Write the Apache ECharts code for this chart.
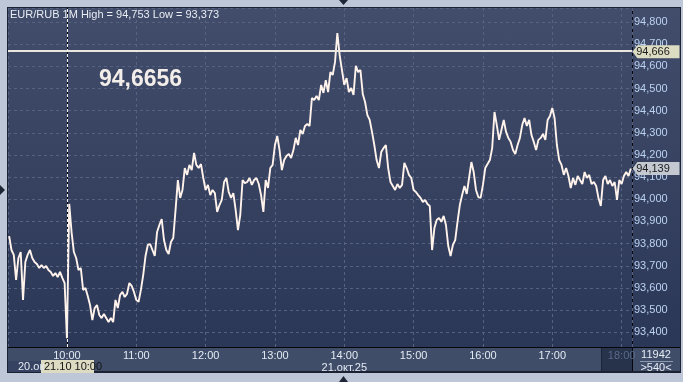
<!DOCTYPE html>
<html><head><meta charset="utf-8">
<script src="https://cdn.jsdelivr.net/npm/echarts@6/dist/echarts.min.js"></script>
<style>
html,body{margin:0;padding:0;width:683px;height:382px;overflow:hidden;background:#bec7d7;}
.bx{position:absolute;}
#frame{left:7px;top:7px;width:674px;height:366px;background:#1b2232;}
#plotbg{left:8px;top:8px;width:672px;height:339px;background:linear-gradient(#414d6a,#2b3756);}
#band{left:8px;top:348px;width:672px;height:23px;background:#3f4d69;}
#vsep{left:632px;top:8px;width:1px;height:363px;background:#05070c;}
#hsep{left:632px;top:347px;width:48px;height:1px;background:#05070c;}
#nowbox{left:601px;top:348px;width:31px;height:23px;background:#27324b;border-left:1px solid #1c2538;}
#chart{position:absolute;left:0;top:0;width:683px;height:382px;}
</style></head>
<body>
<div class="bx" id="frame"></div>
<div class="bx" id="plotbg"></div>
<div class="bx" id="band"></div>
<div class="bx" id="nowbox"></div>
<div class="bx" id="vsep"></div>
<div class="bx" id="hsep"></div>
<div id="chart"></div>
<script>
// ---- data ----
const headerText = 'EUR/RUB 1M High = 94,753 Low = 93,373';
const bigQuote = '94,6656';
const levelPrice = 94.666;      // horizontal level line
const lastPrice = 94.139;       // last price tag
const hourLabels = ['10:00','11:00','12:00','13:00','14:00','15:00','16:00','17:00','18:00'];
const dateLabel = '21.окт.25';
const prevDayLabel = '20.ок';
const cursorLabel = '21.10 10:00';
const barCount = '11942';
const visibleBars = '>540<';
// minutes relative to 10:00 of the first sample, and sample step (minutes)
const startMinute = -50;
const stepMinutes = 2;
const prices = [
93.834,93.771,93.749,93.636,93.735,93.762,93.546,93.717,93.749,93.771,
93.735,93.717,93.708,93.690,93.703,93.690,93.699,93.681,93.672,93.654,
93.667,93.649,93.672,93.645,93.622,93.373,93.979,93.852,93.762,93.735,
93.681,93.690,93.591,93.600,93.564,93.523,93.455,93.509,93.523,93.478,
93.464,93.482,93.464,93.446,93.464,93.446,93.546,93.509,93.568,93.582,
93.559,93.573,93.622,93.609,93.582,93.546,93.537,93.591,93.658,93.744,
93.794,93.798,93.771,93.744,93.852,93.884,93.911,93.816,93.771,93.753,
93.807,93.825,93.952,94.087,94.006,94.042,94.141,94.110,94.155,94.132,
94.209,94.155,94.141,94.159,94.096,94.042,94.065,94.019,94.042,94.028,
93.943,93.974,93.997,94.078,94.096,94.033,94.006,94.028,93.952,93.861,
93.929,94.087,94.073,94.078,94.096,94.065,94.087,94.096,94.069,94.019,
93.943,94.087,94.051,94.141,94.155,94.245,94.286,94.222,94.132,94.177,
94.195,94.204,94.186,94.222,94.277,94.245,94.313,94.295,94.331,94.340,
94.331,94.457,94.448,94.466,94.448,94.516,94.480,94.538,94.484,94.574,
94.561,94.620,94.750,94.651,94.583,94.516,94.547,94.484,94.502,94.471,
94.602,94.574,94.583,94.475,94.439,94.380,94.358,94.304,94.245,94.177,
94.141,94.213,94.231,94.245,94.141,94.078,94.060,94.042,94.069,94.051,
94.065,94.164,94.141,94.110,94.096,94.042,94.033,94.019,94.006,93.988,
93.997,93.979,93.970,93.771,93.870,93.907,93.916,93.898,93.925,93.884,
93.789,93.744,93.794,93.816,93.898,93.974,94.019,94.060,94.024,94.096,
94.168,94.123,94.042,94.010,94.006,94.065,94.141,94.159,94.177,94.231,
94.394,94.335,94.268,94.313,94.358,94.304,94.277,94.259,94.222,94.204,
94.245,94.277,94.335,94.367,94.331,94.358,94.290,94.259,94.222,94.268,
94.277,94.295,94.268,94.358,94.376,94.412,94.367,94.245,94.177,94.155,
94.110,94.141,94.105,94.051,94.096,94.065,94.105,94.087,94.069,94.123,
94.096,94.110,94.069,94.078,94.060,94.006,93.970,94.087,94.105,94.069,
94.087,94.060,94.078,93.997,94.087,94.069,94.105,94.123,94.105,94.139
];
// axis extents (visible window)
const xMin = -51, xMax = 489;
const yMin = 93.3334, yMax = 94.8632;

const narrow = '"Liberation Sans Narrow","Liberation Sans",Arial,sans-serif';
const fmtPrice = v => v.toFixed(3).replace('.', ',');

const chart = echarts.init(document.getElementById('chart'), null, {renderer:'canvas'});
chart.setOption({
  animation:false,
  backgroundColor:'transparent',
  title:[
    {text:headerText, left:10, top:9, padding:0,
     textStyle:{fontFamily:narrow, fontSize:11, fontWeight:'normal', color:'#e9ecf3'}},
    {text:bigQuote, left:99, top:68, padding:0,
     textStyle:{fontFamily:'"Liberation Sans",Arial,sans-serif', fontSize:23, fontWeight:'bold', color:'#f3eee9'}}
  ],
  grid:{left:8, right:51, top:8, bottom:35, containLabel:false},
  xAxis:{
    type:'value', min:xMin, max:xMax, minInterval:60, maxInterval:60,
    axisLine:{show:true, lineStyle:{color:'#05070c', width:1}},
    axisTick:{show:false},
    splitLine:{show:true, lineStyle:{color:'#56627f', type:[3,3], width:1}},
    axisLabel:{
      showMinLabel:false, showMaxLabel:false, margin:3,
      fontFamily:narrow, fontSize:11, color:'#e4eaf4', lineHeight:12,
      formatter:function(v){
        if (v % 60 !== 0) return '';
        const k = v/60;
        const s = hourLabels[k];
        if (s === undefined) return '';
        if (k === hourLabels.length-1) return '{g|' + s + '}';
        if (k === 4) return s + '\n' + dateLabel;
        return s;
      },
      rich:{g:{color:'#5b6a88', fontFamily:narrow, fontSize:11}}
    }
  },
  yAxis:{
    type:'value', position:'right', min:yMin, max:yMax, minInterval:0.1, maxInterval:0.1,
    axisLine:{show:true, lineStyle:{color:'#05070c', width:1}},
    axisTick:{show:false},
    splitLine:{show:true, lineStyle:{color:'#56627f', type:[3,3], width:1}},
    axisLabel:{showMinLabel:false, showMaxLabel:false, margin:2,
      fontFamily:narrow, fontSize:11, color:'#bcd2f2', formatter:fmtPrice}
  },
  series:[{
    type:'line',
    data:prices.map((p,i)=>[startMinute + i*stepMinutes, p]),
    symbol:'none', showSymbol:false,
    lineStyle:{color:'#fff3ec', width:1.9},
    z:3,
    markLine:{
      silent:true, symbol:'none', animation:false,
      data:[
        {yAxis:levelPrice, lineStyle:{color:'#e8e6de', width:2, type:'solid'}, label:{show:false}},
        {xAxis:0, lineStyle:{color:'#f2f2f2', width:1, type:[3,2]}, label:{show:false}}
      ]
    },
    markPoint:{
      silent:true, animation:false,
      data:[
        {coord:[xMax, levelPrice], symbol:'path://M0,7L5,0L48,0L48,14L5,14Z', symbolSize:[47,13], symbolOffset:[24,0],
         itemStyle:{color:'#dcdcc2'},
         label:{show:true, formatter:fmtPrice(levelPrice), color:'#1a1a1a', fontFamily:narrow, fontSize:11, offset:[-3,0]}},
        {coord:[xMax, lastPrice], symbol:'path://M0,7L5,0L48,0L48,14L5,14Z', symbolSize:[47,13], symbolOffset:[24,0],
         itemStyle:{color:'#c4c8d0'},
         label:{show:true, formatter:fmtPrice(lastPrice), color:'#1a1a1a', fontFamily:narrow, fontSize:11, offset:[-3,0]}}
      ]
    }
  }],
  graphic:[
    {type:'rect', shape:{x:8,y:361,width:33,height:11}, style:{fill:'#354261'}, z:10},
    {type:'text', x:18, y:361, style:{text:prevDayLabel, fill:'#e6ebf4', font:'11px ' + narrow}, z:11},
    {type:'rect', shape:{x:41,y:360,width:53,height:13}, style:{fill:'#dddcc3'}, z:10},
    {type:'text', x:44, y:361, style:{text:cursorLabel, fill:'#141414', font:'11px ' + narrow}, z:11},
    {type:'text', x:656, y:349, style:{text:barCount, fill:'#e6ebf4', font:'11px ' + narrow, align:'center'}, z:11},
    {type:'rect', shape:{x:640,y:361,width:33,height:1}, style:{fill:'#8e9ab0'}, z:11},
    {type:'text', x:656, y:362, style:{text:visibleBars, fill:'#e6ebf4', font:'11px ' + narrow, align:'center'}, z:11},
    {type:'polygon', shape:{points:[[0,185],[5,190],[0,195]]}, style:{fill:'#1e2636'}, z:11},
    {type:'polygon', shape:{points:[[339,0],[348,0],[343.5,5]]}, style:{fill:'#1e2636'}, z:11},
    {type:'polygon', shape:{points:[[339,382],[348,382],[343.5,376]]}, style:{fill:'#1e2636'}, z:11}
  ]
});
</script>
</body></html>
